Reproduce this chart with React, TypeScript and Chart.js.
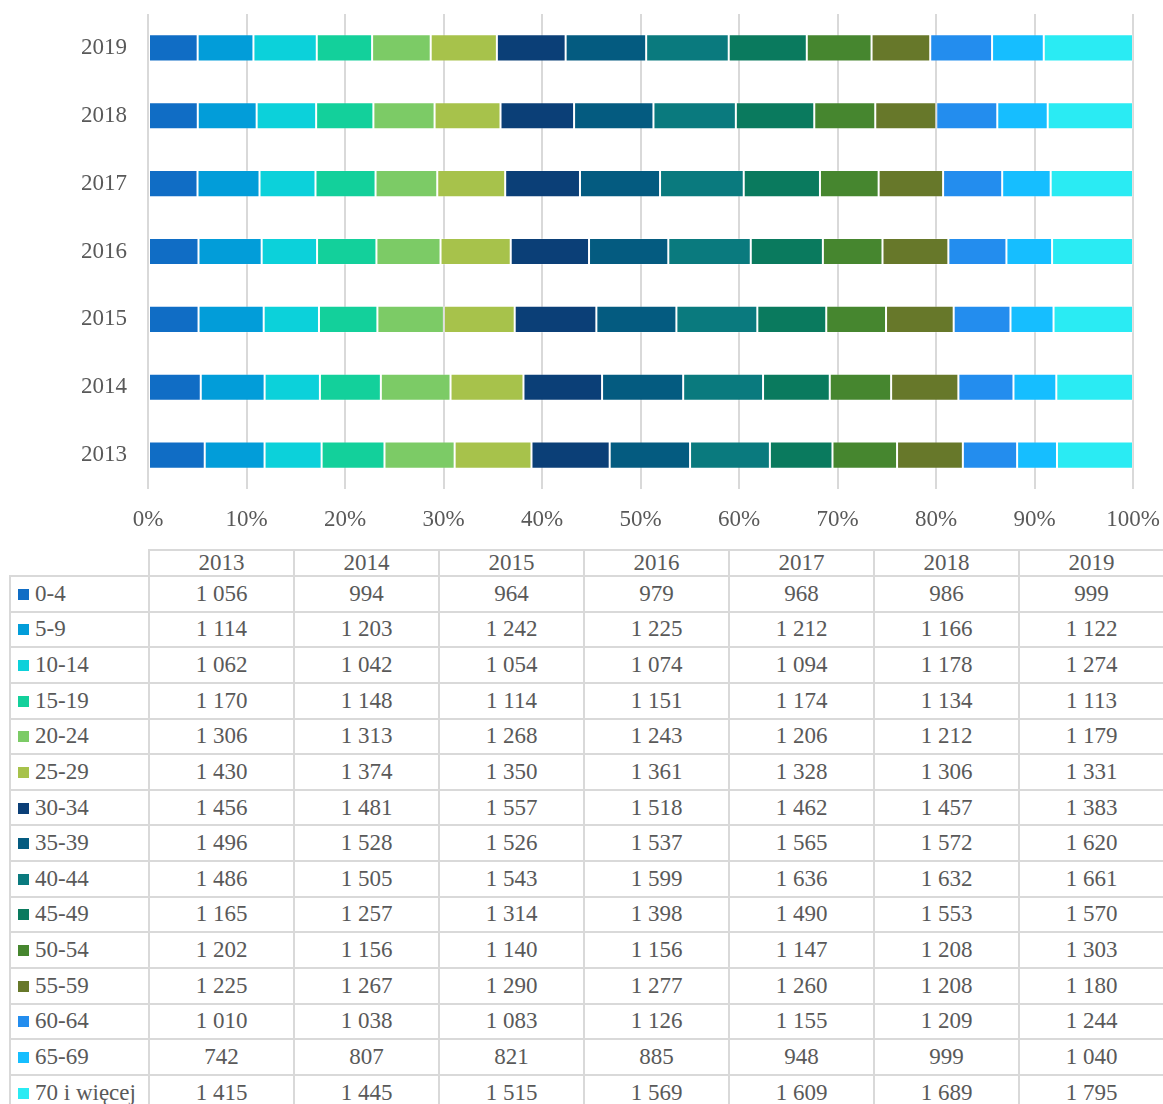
import React, { useEffect, useRef } from "react";
import { Chart, registerables } from "chart.js";

Chart.register(...registerables);

const years = ["2013", "2014", "2015", "2016", "2017", "2018", "2019"];
const groups = [
  "0-4", "5-9", "10-14", "15-19", "20-24", "25-29", "30-34", "35-39",
  "40-44", "45-49", "50-54", "55-59", "60-64", "65-69", "70 i więcej",
];
const colors = [
  "#106DC5", "#029DD9", "#0CD1DA", "#13D09B", "#7CCB66", "#A7C24B", "#0B3F77", "#045B80",
  "#0A7A7E", "#0A7A5E", "#46862F", "#67782A", "#238DEE", "#16BEFF", "#2AEBF3",
];

const v0_4 = [1056, 994, 964, 979, 968, 986, 999];
const v5_9 = [1114, 1203, 1242, 1225, 1212, 1166, 1122];
const v10_14 = [1062, 1042, 1054, 1074, 1094, 1178, 1274];
const v15_19 = [1170, 1148, 1114, 1151, 1174, 1134, 1113];
const v20_24 = [1306, 1313, 1268, 1243, 1206, 1212, 1179];
const v25_29 = [1430, 1374, 1350, 1361, 1328, 1306, 1331];
const v30_34 = [1456, 1481, 1557, 1518, 1462, 1457, 1383];
const v35_39 = [1496, 1528, 1526, 1537, 1565, 1572, 1620];
const v40_44 = [1486, 1505, 1543, 1599, 1636, 1632, 1661];
const v45_49 = [1165, 1257, 1314, 1398, 1490, 1553, 1570];
const v50_54 = [1202, 1156, 1140, 1156, 1147, 1208, 1303];
const v55_59 = [1225, 1267, 1290, 1277, 1260, 1208, 1180];
const v60_64 = [1010, 1038, 1083, 1126, 1155, 1209, 1244];
const v65_69 = [742, 807, 821, 885, 948, 999, 1040];
const v70plus = [1415, 1445, 1515, 1569, 1609, 1689, 1795];

const series = [
  v0_4, v5_9, v10_14, v15_19, v20_24, v25_29, v30_34, v35_39,
  v40_44, v45_49, v50_54, v55_59, v60_64, v65_69, v70plus,
];

const xTicks = [0, 10, 20, 30, 40, 50, 60, 70, 80, 90, 100];

const fmt = (n: number) => {
  const s = String(n);
  return s.length > 3 ? s.slice(0, s.length - 3) + "\u00a0" + s.slice(s.length - 3) : s;
};

const FONT = '"Liberation Serif", serif';
const TEXT = "#595959";
const GRID = "#d9d9d9";

function BarChart() {
  const ref = useRef<HTMLCanvasElement | null>(null);
  useEffect(() => {
    if (!ref.current) return;
    const totals = years.map((_, yi) => series.reduce((a, s) => a + s[yi], 0));
    const chart = new Chart(ref.current, {
      type: "bar",
      data: {
        labels: years,
        datasets: series.map((s, i) => ({
          label: groups[i],
          data: s.map((v, yi) => (v / totals[yi]) * 100),
          backgroundColor: colors[i],
          borderColor: "rgba(255,255,255,0.22)",
          borderWidth: 1,
          borderSkipped: false,
          categoryPercentage: 0.8,
          barPercentage: 0.5,
        })),
      },
      options: {
        indexAxis: "y",
        responsive: false,
        animation: false,
        layout: { padding: { top: 14, right: 30, left: 0, bottom: 0 } },
        plugins: { legend: { display: false }, tooltip: { enabled: false } },
        scales: {
          x: {
            stacked: true,
            min: 0,
            max: 100,
            afterBuildTicks: (axis: any) => {
              axis.ticks = xTicks.map((v) => ({ value: v }));
            },
            afterFit: (axis: any) => {
              axis.height = 56;
              axis.paddingLeft = 0;
              axis.paddingRight = 0;
            },
            grid: { color: GRID, lineWidth: 2, drawTicks: false },
            border: { display: false },
            ticks: {
              padding: 17,
              color: TEXT,
              font: { family: FONT, size: 23 },
              callback: (v: any) => v + "%",
              maxRotation: 0,
            },
          },
          y: {
            stacked: true,
            reverse: true,
            afterFit: (axis: any) => {
              axis.width = 148;
              axis.paddingTop = 0;
              axis.paddingBottom = 0;
            },
            grid: { display: false, drawTicks: false },
            border: { display: false },
            ticks: {
              padding: 21,
              color: TEXT,
              font: { family: FONT, size: 23 },
            },
          },
        },
      },
    } as any);
    return () => chart.destroy();
  }, []);
  return <canvas ref={ref} width={1163} height={545} style={{ display: "block" }} />;
}

export default function App() {
  const cellBase: React.CSSProperties = {
    border: `2px solid ${GRID}`,
    padding: 0,
    textAlign: "center",
    verticalAlign: "middle",
    fontFamily: FONT,
    fontSize: 23,
    color: TEXT,
    lineHeight: "22px",
    whiteSpace: "nowrap",
    overflow: "hidden",
  };
  return (
    <div style={{ position: "absolute", left: 0, top: 0, width: 1163, height: 1104, background: "#fff", overflow: "hidden" }}>
      <BarChart />
      <table
        style={{
          position: "absolute",
          left: 9,
          top: 549,
          borderCollapse: "collapse",
          tableLayout: "fixed",
          width: 1154,
        }}
      >
        <colgroup>
          <col style={{ width: 139 }} />
          {years.map((y) => (
            <col key={y} style={{ width: 145 }} />
          ))}
        </colgroup>
        <tbody>
          <tr style={{ height: 26 }}>
            <td style={{ ...cellBase, border: "none" }}></td>
            {years.map((y) => (
              <td key={y} style={cellBase}>{y}</td>
            ))}
          </tr>
          {groups.map((g, i) => (
            <tr key={g} style={{ height: 35.64 }}>
              <td style={{ ...cellBase, textAlign: "left", paddingLeft: 7 }}>
                <span
                  style={{
                    display: "inline-block",
                    width: 11,
                    height: 11,
                    background: colors[i],
                    marginRight: 6,
                    verticalAlign: "1px",
                  }}
                />
                {g}
              </td>
              {series[i].map((v, yi) => (
                <td key={yi} style={cellBase}>{fmt(v)}</td>
              ))}
            </tr>
          ))}
        </tbody>
      </table>
    </div>
  );
}
